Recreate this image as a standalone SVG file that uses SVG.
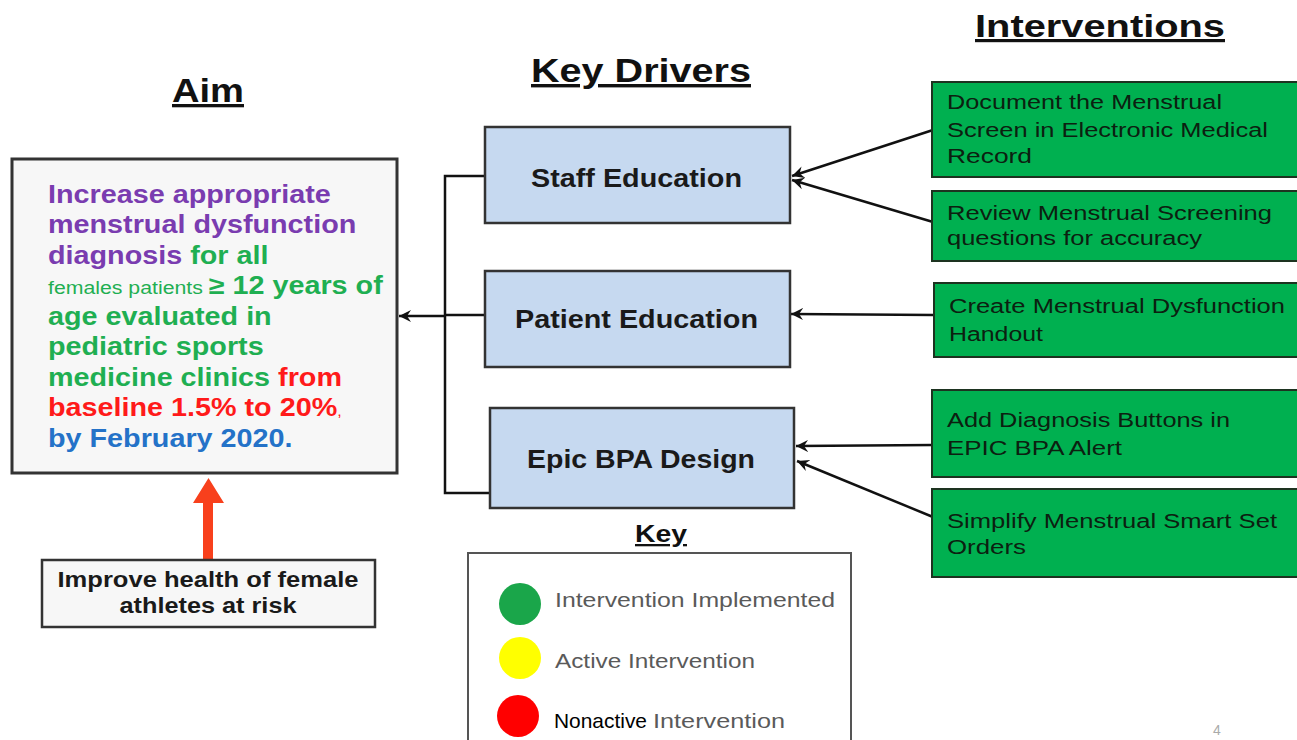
<svg xmlns="http://www.w3.org/2000/svg" width="1297" height="740" viewBox="0 0 1297 740">
<defs>
<style>
.hdr{font-family:"Liberation Sans",Arial,sans-serif;font-weight:bold;fill:#111;text-decoration:underline}
.drv{fill:#c6d9f0;stroke:#333;stroke-width:2.5}
.drvt{font-family:"Liberation Sans",Arial,sans-serif;font-weight:bold;font-size:25px;fill:#1a1a1a;text-anchor:middle}
.int{fill:#00b050;stroke:#1d3320;stroke-width:2}
.intt{font-family:"Liberation Sans",Arial,sans-serif;font-size:20px;fill:#0c2010}
.aimt{font-family:"Liberation Sans",Arial,sans-serif;font-weight:bold;font-size:25px}
.pur{fill:#7a3cb0}.grn{fill:#1faf52}.red{fill:#ff1a1a}.blu{fill:#2472c8}
.conn{stroke:#111;stroke-width:2.5;fill:none}
.keyt{font-family:"Liberation Sans",Arial,sans-serif;font-size:20px;fill:#5a5a5a}
</style>
<marker id="ah" markerUnits="userSpaceOnUse" markerWidth="14" markerHeight="14" refX="12" refY="7" orient="auto">
<path d="M0,1 L12,7 L0,13 L4,7 Z" fill="#111"/>
</marker>
</defs>
<rect width="1297" height="740" fill="#ffffff"/>

<g id="headers">
<text class="hdr" x="208" y="102" font-size="33" text-anchor="middle" textLength="72" lengthAdjust="spacingAndGlyphs">Aim</text>
<text class="hdr" x="641" y="82" font-size="34" text-anchor="middle" textLength="220" lengthAdjust="spacingAndGlyphs">Key Drivers</text>
<text class="hdr" x="1100" y="37" font-size="32" text-anchor="middle" textLength="250" lengthAdjust="spacingAndGlyphs">Interventions</text>
</g>

<g id="connectors">
<polyline class="conn" points="485,176 445,176 445,493 490,493"/>
<line class="conn" x1="445" y1="315" x2="485" y2="315"/>
<line class="conn" x1="445" y1="316" x2="399" y2="316" marker-end="url(#ah)"/>
<line class="conn" x1="933" y1="130" x2="792" y2="176" marker-end="url(#ah)"/>
<line class="conn" x1="933" y1="222" x2="792" y2="180" marker-end="url(#ah)"/>
<line class="conn" x1="934" y1="315" x2="791" y2="314" marker-end="url(#ah)"/>
<line class="conn" x1="933" y1="445" x2="796" y2="446" marker-end="url(#ah)"/>
<line class="conn" x1="933" y1="517" x2="797" y2="461" marker-end="url(#ah)"/>
<path d="M203,559 L203,503 L193,503 L208.5,478 L224,503 L213,503 L213,559 Z" fill="#f8401c"/>
</g>

<g id="aim">
<rect x="12" y="159" width="385" height="314" fill="#f7f7f7" stroke="#333" stroke-width="3"/>
<g transform="translate(48,0) scale(1.15,1)" class="aimt">
<text x="0" y="203" class="pur">Increase appropriate</text>
<text x="0" y="233.5" class="pur">menstrual dysfunction</text>
<text x="0" y="264"><tspan class="pur">diagnosis </tspan><tspan class="grn">for all</tspan></text>
<text x="0" y="294.5" class="grn"><tspan font-weight="normal" font-size="18.5">females patients </tspan>≥ 12 years of</text>
<text x="0" y="325" class="grn">age evaluated in</text>
<text x="0" y="355.5" class="grn">pediatric sports</text>
<text x="0" y="386"><tspan class="grn">medicine clinics </tspan><tspan class="red">from</tspan></text>
<text x="0" y="416.5" class="red">baseline 1.5% to 20%<tspan font-weight="normal" font-size="14">,</tspan></text>
<text x="0" y="447" class="blu">by February 2020.</text>
</g>
</g>

<g id="goal">
<rect x="42" y="560" width="333" height="67" fill="#f7f7f7" stroke="#333" stroke-width="2.5"/>
<text x="208" y="587" font-family="Liberation Sans, Arial, sans-serif" font-weight="bold" font-size="22" fill="#1a1a1a" text-anchor="middle" textLength="301" lengthAdjust="spacingAndGlyphs">Improve health of female</text>
<text x="208" y="613" font-family="Liberation Sans, Arial, sans-serif" font-weight="bold" font-size="22" fill="#1a1a1a" text-anchor="middle" textLength="177" lengthAdjust="spacingAndGlyphs">athletes at risk</text>
</g>

<g id="driver-staff">
<rect class="drv" x="485" y="127" width="305" height="96"/>
<text class="drvt" x="636.5" y="187" textLength="211" lengthAdjust="spacingAndGlyphs">Staff Education</text>
</g>
<g id="driver-patient">
<rect class="drv" x="485" y="271" width="305" height="96"/>
<text class="drvt" x="636.5" y="328" textLength="243" lengthAdjust="spacingAndGlyphs">Patient Education</text>
</g>
<g id="driver-epic">
<rect class="drv" x="490" y="408" width="304" height="100"/>
<text class="drvt" x="641" y="468" textLength="228" lengthAdjust="spacingAndGlyphs">Epic BPA Design</text>
</g>

<g id="int-document">
<rect class="int" x="932" y="82" width="370" height="95"/>
<text class="intt" x="947" y="109" textLength="275" lengthAdjust="spacingAndGlyphs">Document the Menstrual</text>
<text class="intt" x="947" y="137" textLength="321" lengthAdjust="spacingAndGlyphs">Screen in Electronic Medical</text>
<text class="intt" x="947" y="163" textLength="85" lengthAdjust="spacingAndGlyphs">Record</text>
</g>
<g id="int-review">
<rect class="int" x="932" y="191" width="370" height="70"/>
<text class="intt" x="947" y="220" textLength="325" lengthAdjust="spacingAndGlyphs">Review Menstrual Screening</text>
<text class="intt" x="947" y="245" textLength="255" lengthAdjust="spacingAndGlyphs">questions for accuracy</text>
</g>
<g id="int-handout">
<rect class="int" x="934" y="283" width="368" height="74"/>
<text class="intt" x="949" y="313" textLength="336" lengthAdjust="spacingAndGlyphs">Create Menstrual Dysfunction</text>
<text class="intt" x="949" y="341" textLength="94" lengthAdjust="spacingAndGlyphs">Handout</text>
</g>
<g id="int-buttons">
<rect class="int" x="932" y="390" width="370" height="87"/>
<text class="intt" x="947" y="427" textLength="283" lengthAdjust="spacingAndGlyphs">Add Diagnosis Buttons in</text>
<text class="intt" x="947" y="455" textLength="175" lengthAdjust="spacingAndGlyphs">EPIC BPA Alert</text>
</g>
<g id="int-smartset">
<rect class="int" x="932" y="489" width="370" height="88"/>
<text class="intt" x="947" y="528" textLength="330" lengthAdjust="spacingAndGlyphs">Simplify Menstrual Smart Set</text>
<text class="intt" x="947" y="554" textLength="79" lengthAdjust="spacingAndGlyphs">Orders</text>
</g>

<g id="key">
<text class="hdr" x="661" y="542" font-size="23" text-anchor="middle" textLength="52" lengthAdjust="spacingAndGlyphs">Key</text>
<rect x="468" y="553" width="383" height="200" fill="#ffffff" stroke="#555" stroke-width="2"/>
<circle cx="520" cy="604" r="21" fill="#1aa64a"/>
<circle cx="520" cy="658" r="21" fill="#ffff00"/>
<circle cx="518" cy="716" r="21" fill="#ff0000"/>
<text class="keyt" x="555" y="607" textLength="280" lengthAdjust="spacingAndGlyphs">Intervention Implemented</text>
<text class="keyt" x="555" y="668" textLength="200" lengthAdjust="spacingAndGlyphs">Active Intervention</text>
<text x="554" y="728" font-family="Liberation Sans, Arial, sans-serif" font-size="21" fill="#000" textLength="93" lengthAdjust="spacingAndGlyphs">Nonactive</text>
<text class="keyt" x="653" y="728" textLength="132" lengthAdjust="spacingAndGlyphs">Intervention</text>
</g>

<text x="1213" y="735" font-family="Liberation Sans, Arial, sans-serif" font-size="14" fill="#aaa">4</text>
</svg>
